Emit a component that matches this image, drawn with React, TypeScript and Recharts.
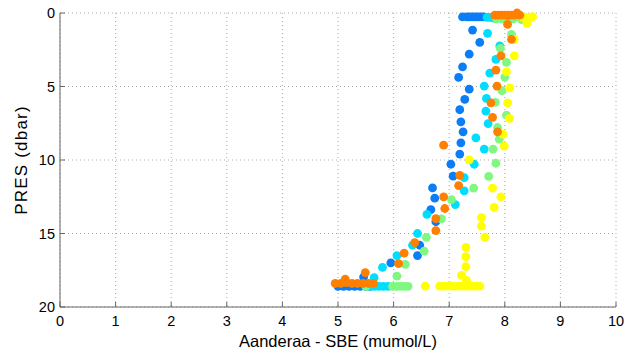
import { ScatterChart, Scatter, XAxis, YAxis, CartesianGrid } from 'recharts';

const FONT = '"Liberation Sans", Arial, Helvetica, sans-serif';

const xTicks = [0, 1, 2, 3, 4, 5, 6, 7, 8, 9, 10];
const yTicks = [0, 5, 10, 15, 20];

// [difference, pressure] per profile
const bluePoints: [number, number][] = [
  [7.24, 0.27], [7.32, 0.27], [7.37, 0.27], [7.42, 0.27], [7.47, 0.27], [7.52, 0.27], [7.57, 0.27], [7.62, 0.27],
  [7.42, 1.16], [7.55, 2.0], [7.36, 2.8], [7.24, 3.66], [7.17, 4.38], [7.36, 5.18], [7.28, 5.88], [7.19, 6.58],
  [7.21, 7.4], [7.25, 8.08], [7.21, 8.83], [7.19, 9.6], [7.03, 10.29], [7.07, 11.1], [6.7, 11.9], [6.74, 12.6],
  [6.67, 13.37], [6.76, 14.2], [6.47, 15.8], [6.43, 16.5], [5.95, 17.0], [5.46, 17.96],
  [5.0, 18.6], [5.1, 18.6], [5.2, 18.6], [5.3, 18.6], [5.4, 18.6], [5.5, 18.6], [5.58, 18.6],
];

const cyanPoints: [number, number][] = [
  [7.68, 0.3], [7.74, 0.3], [7.8, 0.35],
  [7.69, 1.38], [7.91, 2.23], [7.84, 3.16], [7.73, 4.09], [7.63, 4.97], [7.67, 5.81], [7.66, 6.68], [7.7, 7.52],
  [7.48, 8.49], [7.63, 9.26], [7.45, 10.29], [7.27, 11.2], [7.27, 12.1], [7.11, 13.03], [6.6, 13.7], [6.43, 15.0],
  [6.34, 15.8], [6.06, 16.5], [5.8, 17.3], [5.65, 18.0],
  [5.5, 18.6], [5.58, 18.6], [5.66, 18.6], [5.74, 18.6], [5.82, 18.6], [5.9, 18.6],
];

const greenPoints: [number, number][] = [
  [7.85, 0.4], [7.95, 0.4], [8.05, 0.4], [8.15, 0.4], [8.3, 0.45],
  [8.12, 1.45], [7.92, 2.41], [8.03, 3.36], [8.0, 4.36], [7.95, 5.29], [7.83, 6.08], [8.03, 6.95], [7.87, 7.79],
  [7.9, 8.58], [7.79, 9.26], [7.84, 10.22], [7.71, 11.12], [7.44, 11.92], [7.04, 12.69], [6.86, 14.0], [6.59, 15.26],
  [6.55, 16.2], [6.21, 17.1], [6.06, 17.9],
  [5.5, 18.6], [5.98, 18.6], [6.05, 18.6], [6.12, 18.6], [6.19, 18.6], [6.26, 18.6],
];

const yellowPoints: [number, number][] = [
  [8.33, 0.3], [8.4, 0.3], [8.47, 0.3], [8.5, 0.25], [8.4, 0.7],
  [8.17, 1.79], [8.17, 2.91], [8.03, 4.0], [8.09, 5.09], [8.05, 6.11], [8.08, 7.17], [7.97, 8.24], [7.99, 9.06],
  [7.36, 9.99], [7.78, 11.92], [7.93, 12.51], [7.81, 13.23], [7.58, 13.92], [7.58, 14.5], [7.64, 15.24], [7.3, 15.94],
  [7.3, 16.58], [7.3, 17.26], [7.22, 17.85], [7.31, 18.19],
  [6.57, 18.58], [6.83, 18.58], [6.9, 18.58], [6.97, 18.58], [7.04, 18.58], [7.13, 18.58], [7.2, 18.58],
  [7.27, 18.58], [7.34, 18.58], [7.41, 18.58], [7.48, 18.58], [7.55, 18.58],
];

const orangePoints: [number, number][] = [
  [7.82, 0.15], [7.88, 0.15], [7.94, 0.15], [8.0, 0.15], [8.06, 0.15], [8.12, 0.15], [8.18, 0.15], [8.22, 0.0], [8.27, 0.15],
  [8.05, 0.77], [8.12, 1.79], [7.93, 2.91], [7.84, 3.88], [7.86, 4.97], [7.75, 6.11], [7.78, 7.1], [7.87, 8.08],
  [6.9, 8.99], [7.19, 11.04], [7.17, 11.74], [6.9, 12.51], [6.92, 13.3], [6.76, 13.99], [6.76, 14.8], [6.38, 15.62],
  [6.19, 16.33], [6.09, 17.05], [5.49, 17.66], [5.13, 18.1],
  [4.95, 18.4], [5.05, 18.4], [5.15, 18.35], [5.25, 18.4], [5.35, 18.4], [5.45, 18.4], [5.55, 18.4], [5.64, 18.4],
];

const series = [
  { name: 'p1', points: bluePoints, color: '#0a7df7' },
  { name: 'p2', points: cyanPoints, color: '#00ddff' },
  { name: 'p3', points: greenPoints, color: '#80f780' },
  { name: 'p4', points: yellowPoints, color: '#ffff00' },
  { name: 'p5', points: orangePoints, color: '#ff7f00' },
];

const dot = (color: string) => (props: any) => (
  <circle cx={props.cx} cy={props.cy} r={4.4} fill={color} />
);

export default function App() {
  return (
    <div style={{ position: 'absolute', left: 0, top: 0, background: '#fff' }}>
      <ScatterChart width={633} height={353} margin={{ top: 13, right: 17, bottom: 0, left: 0 }}>
        <CartesianGrid stroke="#aaa" strokeDasharray="1 3" />
        <XAxis
          type="number"
          dataKey="x"
          domain={[0, 10]}
          ticks={xTicks}
          height={46}
          axisLine={{ stroke: '#666' }}
          tickLine={{ stroke: '#666' }}
          tickSize={-5}
          tickMargin={14}
          tick={{ fill: '#000', fontSize: 14.5, fontFamily: FONT }}
          label={{ value: 'Aanderaa - SBE (mumol/L)', position: 'insideBottom', offset: 6, fill: '#000', fontSize: 16.5, fontFamily: FONT }}
        />
        <YAxis
          type="number"
          dataKey="y"
          reversed
          domain={[0, 20]}
          ticks={yTicks}
          width={60}
          axisLine={{ stroke: '#666' }}
          tickLine={{ stroke: '#666' }}
          tickSize={-5}
          tickMargin={10}
          tick={{ fill: '#000', fontSize: 14.5, fontFamily: FONT }}
          label={{
            value: 'PRES (dbar)', angle: -90, position: 'insideLeft', offset: 21,
            fill: '#000', fontSize: 17, fontFamily: FONT,
            style: { textAnchor: 'middle', letterSpacing: 1.2 },
          }}
        />
        {series.map((s) => (
          <Scatter
            key={s.name}
            name={s.name}
            data={s.points.map(([x, y]) => ({ x, y }))}
            fill={s.color}
            shape={dot(s.color)}
            isAnimationActive={false}
          />
        ))}
      </ScatterChart>
    </div>
  );
}
